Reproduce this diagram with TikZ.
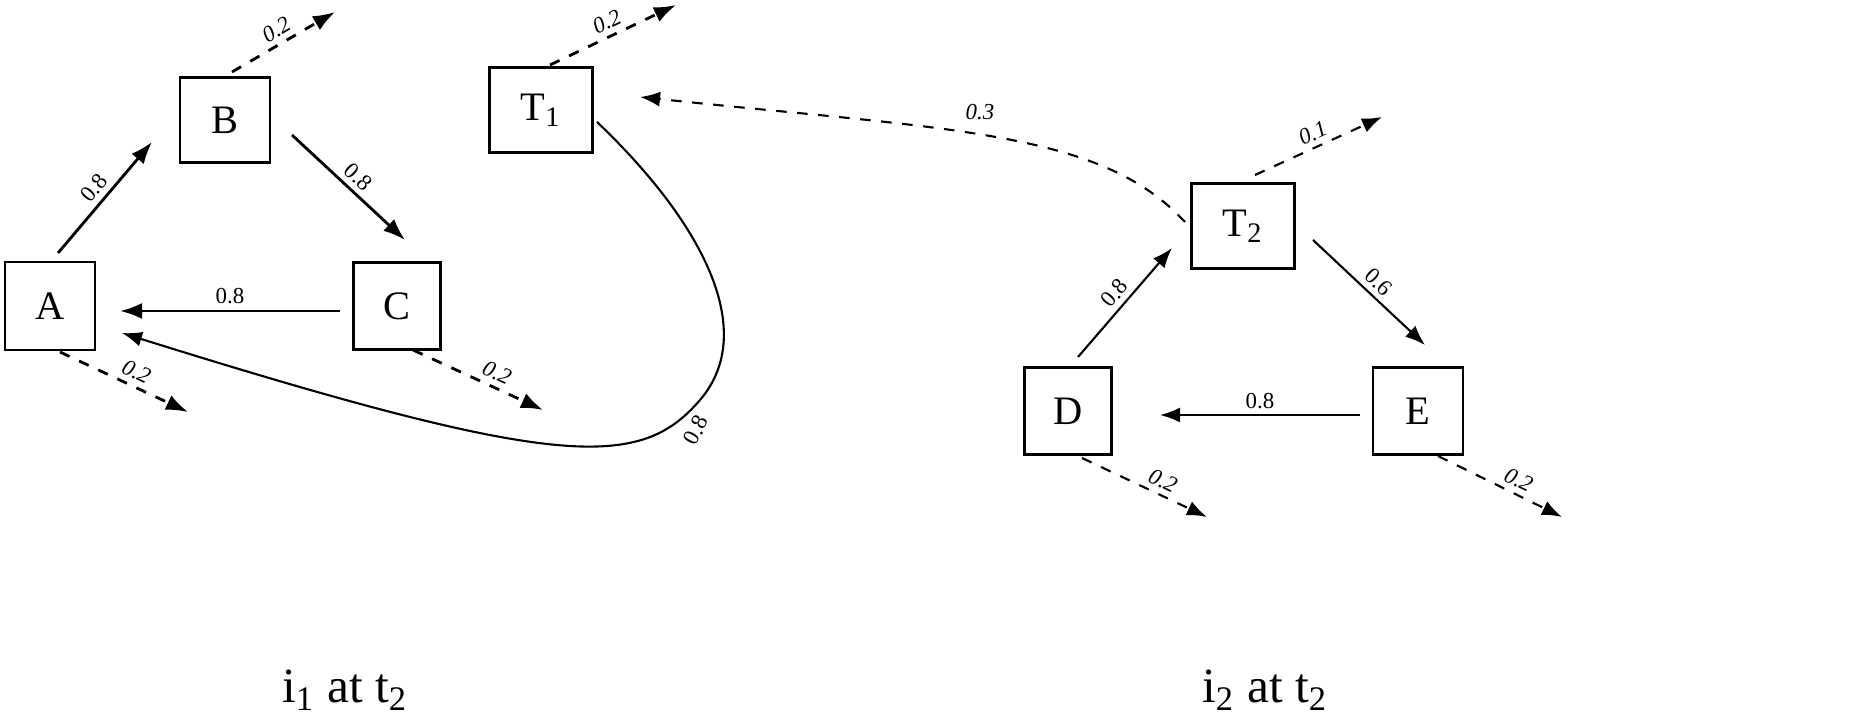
\documentclass[tikz,border=0pt]{standalone}
\usepackage{fontspec}
\setmainfont{Liberation Serif}
\usetikzlibrary{arrows.meta}
\tikzset{
    statebox/.style={draw,thick,inner sep=0pt,font=\fontsize{11.5}{13}\selectfont},
    wt/.style={font=\fontsize{6.5}{7}\selectfont,inner sep=1.5pt},
    strong/.style={thick,-{Latex[length=2.2mm,width=1.6mm]}},
    weak/.style={semithick,-{Latex[length=2mm,width=1.5mm]}},
}
\begin{document}
\begin{tikzpicture}[x=0.01cm,y=-0.01cm]
    \useasboundingbox (0,0) rectangle (1854,716);
    % first panel
    \node[statebox,minimum width=0.9cm,minimum height=0.88cm] (A) at (50,306) {A};
    \node[statebox,minimum width=0.9cm,minimum height=0.85cm] (B) at (225,120) {B};
    \node[statebox,minimum width=0.87cm,minimum height=0.87cm] (C) at (397,306) {C};
    \node[statebox,minimum width=1.03cm,minimum height=0.85cm] (T1) at (541,110) {T\textsubscript{1}};
    \coordinate (Bo) at (335,12);
    \coordinate (T1o) at (676,5);
    \coordinate (Ao) at (188,412);
    \coordinate (Co) at (543,410);
    \draw[strong] (58,253) -- (152,142) node[wt,midway,above,sloped]{0.8};
    \draw[strong] (292,135) -- (405,240) node[wt,midway,above,sloped]{0.8};
    \draw[strong] (340,311) -- (120,311) node[wt,midway,above]{0.8};
    \draw[strong,dashed] (232,72) -- (Bo) node[wt,midway,above,sloped]{\itshape 0.2};
    \draw[strong,dashed] (550,65) -- (T1o) node[wt,midway,above,sloped]{\itshape 0.2};
    \draw[strong,dashed] (60,352) -- (Ao) node[wt,pos=0.55,above,sloped]{\itshape 0.2};
    \draw[strong,dashed] (413,350) -- (Co) node[wt,pos=0.6,above,sloped]{\itshape 0.2};
    \draw[weak] (597,122) .. controls (700,220) and (760,330) .. (700,400)
        .. controls (640,470) and (560,470) .. (122,333);
    \node[wt,rotate=62] (w1) at (696,430) {0.8};
    % second panel
    \node[statebox,minimum width=1.03cm,minimum height=0.85cm] (T2) at (1243,226) {T\textsubscript{2}};
    \node[statebox,minimum width=0.87cm,minimum height=0.87cm] (D) at (1068,411) {D};
    \node[statebox,minimum width=0.9cm,minimum height=0.87cm] (E) at (1418,411) {E};
    \coordinate (T2o) at (1382,117);
    \coordinate (Do) at (1207,517);
    \coordinate (Eo) at (1562,517);
    \draw[weak,dashed] (1185,222) .. controls (1100,130) and (950,130) .. (640,97);
    \node[wt] (w2) at (980,112) {\itshape 0.3};
    \draw[weak,dashed] (1255,175) -- (T2o) node[wt,midway,above,sloped]{\itshape 0.1};
    \draw[weak] (1313,240) -- (1425,345) node[wt,midway,above,sloped]{0.6};
    \draw[weak] (1078,357) -- (1172,248) node[wt,midway,above,sloped]{0.8};
    \draw[weak] (1360,415) -- (1160,415) node[wt,midway,above]{0.8};
    \draw[weak,dashed] (1082,458) -- (Do) node[wt,pos=0.6,above,sloped]{\itshape 0.2};
    \draw[weak,dashed] (1438,456) -- (Eo) node[wt,pos=0.6,above,sloped]{\itshape 0.2};
    % captions
    \node[font=\fontsize{14}{16}\selectfont] (cap1) at (345,690) {i\textsubscript{1} at t\textsubscript{2}};
    \node[font=\fontsize{14}{16}\selectfont] (cap2) at (1265,690) {i\textsubscript{2} at t\textsubscript{2}};
\end{tikzpicture}
\end{document}
